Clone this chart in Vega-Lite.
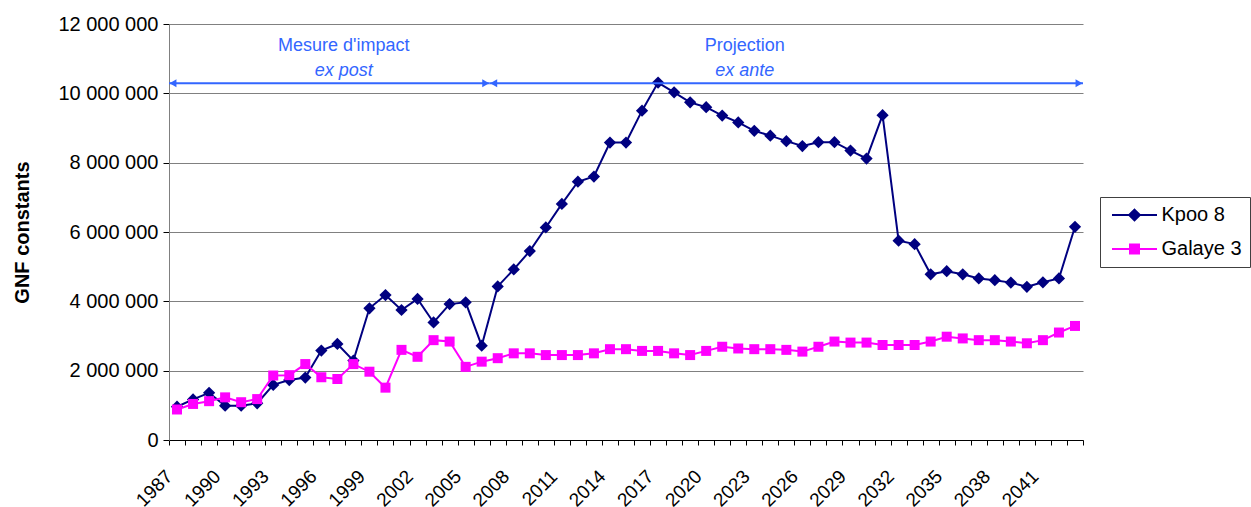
{
  "$schema": "https://vega.github.io/schema/vega-lite/v6.json",
  "width": 914,
  "height": 416,
  "autosize": {"type": "none"},
  "padding": {"left": 169, "top": 24, "right": 168, "bottom": 67},
  "background": "white",
  "config": {"view": {"stroke": null}, "font": "Liberation Sans"},
  "datasets": {
    "series": [
      {"year": 1987, "series": "Kpoo 8", "value": 960000},
      {"year": 1988, "series": "Kpoo 8", "value": 1170000},
      {"year": 1989, "series": "Kpoo 8", "value": 1360000},
      {"year": 1990, "series": "Kpoo 8", "value": 990000},
      {"year": 1991, "series": "Kpoo 8", "value": 990000},
      {"year": 1992, "series": "Kpoo 8", "value": 1060000},
      {"year": 1993, "series": "Kpoo 8", "value": 1590000},
      {"year": 1994, "series": "Kpoo 8", "value": 1730000},
      {"year": 1995, "series": "Kpoo 8", "value": 1800000},
      {"year": 1996, "series": "Kpoo 8", "value": 2580000},
      {"year": 1997, "series": "Kpoo 8", "value": 2770000},
      {"year": 1998, "series": "Kpoo 8", "value": 2290000},
      {"year": 1999, "series": "Kpoo 8", "value": 3800000},
      {"year": 2000, "series": "Kpoo 8", "value": 4180000},
      {"year": 2001, "series": "Kpoo 8", "value": 3750000},
      {"year": 2002, "series": "Kpoo 8", "value": 4070000},
      {"year": 2003, "series": "Kpoo 8", "value": 3390000},
      {"year": 2004, "series": "Kpoo 8", "value": 3920000},
      {"year": 2005, "series": "Kpoo 8", "value": 3970000},
      {"year": 2006, "series": "Kpoo 8", "value": 2720000},
      {"year": 2007, "series": "Kpoo 8", "value": 4430000},
      {"year": 2008, "series": "Kpoo 8", "value": 4920000},
      {"year": 2009, "series": "Kpoo 8", "value": 5450000},
      {"year": 2010, "series": "Kpoo 8", "value": 6130000},
      {"year": 2011, "series": "Kpoo 8", "value": 6810000},
      {"year": 2012, "series": "Kpoo 8", "value": 7450000},
      {"year": 2013, "series": "Kpoo 8", "value": 7600000},
      {"year": 2014, "series": "Kpoo 8", "value": 8580000},
      {"year": 2015, "series": "Kpoo 8", "value": 8580000},
      {"year": 2016, "series": "Kpoo 8", "value": 9500000},
      {"year": 2017, "series": "Kpoo 8", "value": 10310000},
      {"year": 2018, "series": "Kpoo 8", "value": 10030000},
      {"year": 2019, "series": "Kpoo 8", "value": 9740000},
      {"year": 2020, "series": "Kpoo 8", "value": 9600000},
      {"year": 2021, "series": "Kpoo 8", "value": 9360000},
      {"year": 2022, "series": "Kpoo 8", "value": 9160000},
      {"year": 2023, "series": "Kpoo 8", "value": 8920000},
      {"year": 2024, "series": "Kpoo 8", "value": 8780000},
      {"year": 2025, "series": "Kpoo 8", "value": 8620000},
      {"year": 2026, "series": "Kpoo 8", "value": 8480000},
      {"year": 2027, "series": "Kpoo 8", "value": 8590000},
      {"year": 2028, "series": "Kpoo 8", "value": 8590000},
      {"year": 2029, "series": "Kpoo 8", "value": 8350000},
      {"year": 2030, "series": "Kpoo 8", "value": 8120000},
      {"year": 2031, "series": "Kpoo 8", "value": 9370000},
      {"year": 2032, "series": "Kpoo 8", "value": 5750000},
      {"year": 2033, "series": "Kpoo 8", "value": 5650000},
      {"year": 2034, "series": "Kpoo 8", "value": 4780000},
      {"year": 2035, "series": "Kpoo 8", "value": 4870000},
      {"year": 2036, "series": "Kpoo 8", "value": 4780000},
      {"year": 2037, "series": "Kpoo 8", "value": 4660000},
      {"year": 2038, "series": "Kpoo 8", "value": 4610000},
      {"year": 2039, "series": "Kpoo 8", "value": 4540000},
      {"year": 2040, "series": "Kpoo 8", "value": 4420000},
      {"year": 2041, "series": "Kpoo 8", "value": 4550000},
      {"year": 2042, "series": "Kpoo 8", "value": 4660000},
      {"year": 2043, "series": "Kpoo 8", "value": 6150000},
      {"year": 1987, "series": "Galaye 3", "value": 880000},
      {"year": 1988, "series": "Galaye 3", "value": 1040000},
      {"year": 1989, "series": "Galaye 3", "value": 1120000},
      {"year": 1990, "series": "Galaye 3", "value": 1230000},
      {"year": 1991, "series": "Galaye 3", "value": 1090000},
      {"year": 1992, "series": "Galaye 3", "value": 1180000},
      {"year": 1993, "series": "Galaye 3", "value": 1860000},
      {"year": 1994, "series": "Galaye 3", "value": 1870000},
      {"year": 1995, "series": "Galaye 3", "value": 2190000},
      {"year": 1996, "series": "Galaye 3", "value": 1810000},
      {"year": 1997, "series": "Galaye 3", "value": 1760000},
      {"year": 1998, "series": "Galaye 3", "value": 2190000},
      {"year": 1999, "series": "Galaye 3", "value": 1970000},
      {"year": 2000, "series": "Galaye 3", "value": 1510000},
      {"year": 2001, "series": "Galaye 3", "value": 2600000},
      {"year": 2002, "series": "Galaye 3", "value": 2400000},
      {"year": 2003, "series": "Galaye 3", "value": 2880000},
      {"year": 2004, "series": "Galaye 3", "value": 2840000},
      {"year": 2005, "series": "Galaye 3", "value": 2110000},
      {"year": 2006, "series": "Galaye 3", "value": 2260000},
      {"year": 2007, "series": "Galaye 3", "value": 2360000},
      {"year": 2008, "series": "Galaye 3", "value": 2500000},
      {"year": 2009, "series": "Galaye 3", "value": 2500000},
      {"year": 2010, "series": "Galaye 3", "value": 2450000},
      {"year": 2011, "series": "Galaye 3", "value": 2450000},
      {"year": 2012, "series": "Galaye 3", "value": 2450000},
      {"year": 2013, "series": "Galaye 3", "value": 2500000},
      {"year": 2014, "series": "Galaye 3", "value": 2620000},
      {"year": 2015, "series": "Galaye 3", "value": 2620000},
      {"year": 2016, "series": "Galaye 3", "value": 2570000},
      {"year": 2017, "series": "Galaye 3", "value": 2570000},
      {"year": 2018, "series": "Galaye 3", "value": 2500000},
      {"year": 2019, "series": "Galaye 3", "value": 2450000},
      {"year": 2020, "series": "Galaye 3", "value": 2570000},
      {"year": 2021, "series": "Galaye 3", "value": 2690000},
      {"year": 2022, "series": "Galaye 3", "value": 2640000},
      {"year": 2023, "series": "Galaye 3", "value": 2620000},
      {"year": 2024, "series": "Galaye 3", "value": 2620000},
      {"year": 2025, "series": "Galaye 3", "value": 2600000},
      {"year": 2026, "series": "Galaye 3", "value": 2550000},
      {"year": 2027, "series": "Galaye 3", "value": 2690000},
      {"year": 2028, "series": "Galaye 3", "value": 2840000},
      {"year": 2029, "series": "Galaye 3", "value": 2810000},
      {"year": 2030, "series": "Galaye 3", "value": 2810000},
      {"year": 2031, "series": "Galaye 3", "value": 2740000},
      {"year": 2032, "series": "Galaye 3", "value": 2740000},
      {"year": 2033, "series": "Galaye 3", "value": 2740000},
      {"year": 2034, "series": "Galaye 3", "value": 2840000},
      {"year": 2035, "series": "Galaye 3", "value": 2980000},
      {"year": 2036, "series": "Galaye 3", "value": 2930000},
      {"year": 2037, "series": "Galaye 3", "value": 2880000},
      {"year": 2038, "series": "Galaye 3", "value": 2880000},
      {"year": 2039, "series": "Galaye 3", "value": 2840000},
      {"year": 2040, "series": "Galaye 3", "value": 2790000},
      {"year": 2041, "series": "Galaye 3", "value": 2880000},
      {"year": 2042, "series": "Galaye 3", "value": 3100000},
      {"year": 2043, "series": "Galaye 3", "value": 3290000}
    ],
    "spans": [
      {"x": 1986.5, "x2": 2006.5, "y": 10290000},
      {"x": 2006.5, "x2": 2043.5, "y": 10290000}
    ],
    "heads": [
      {"x": 1986.5, "y": 10290000, "dir": "left"},
      {"x": 2006.5, "y": 10290000, "dir": "right"},
      {"x": 2006.5, "y": 10290000, "dir": "left"},
      {"x": 2043.5, "y": 10290000, "dir": "right"}
    ],
    "notes": [
      {"x": 1997.4, "y": 11365000, "text": "Mesure d'impact", "style": "normal"},
      {"x": 1997.4, "y": 10644000, "text": "ex post", "style": "italic"},
      {"x": 2022.4, "y": 11365000, "text": "Projection", "style": "normal"},
      {"x": 2022.4, "y": 10644000, "text": "ex ante", "style": "italic"}
    ]
  },
  "layer": [
    {
      "data": {"name": "series"},
      "transform": [{"filter": "datum.series === 'Kpoo 8'"}],
      "mark": {"type": "line", "strokeWidth": 2},
      "encoding": {
        "x": {
          "field": "year", "type": "quantitative",
          "scale": {"domain": [1986.5, 2043.5], "nice": false, "zero": false},
          "axis": {
            "title": null,
            "values": [1986.5,1987.5,1988.5,1989.5,1990.5,1991.5,1992.5,1993.5,1994.5,1995.5,1996.5,1997.5,1998.5,1999.5,2000.5,2001.5,2002.5,2003.5,2004.5,2005.5,2006.5,2007.5,2008.5,2009.5,2010.5,2011.5,2012.5,2013.5,2014.5,2015.5,2016.5,2017.5,2018.5,2019.5,2020.5,2021.5,2022.5,2023.5,2024.5,2025.5,2026.5,2027.5,2028.5,2029.5,2030.5,2031.5,2032.5,2033.5,2034.5,2035.5,2036.5,2037.5,2038.5,2039.5,2040.5,2041.5,2042.5,2043.5],
            "tickCount": 200,
            "labelExpr": "(datum.value + 0.5 - 1987) % 3 == 0 && datum.value < 2043 ? format(datum.value + 0.5, 'd') : ''",
            "labelAngle": -45, "labelAlign": "right", "labelBaseline": "middle",
            "labelPadding": 28, "labelDx": -5, "tickSize": 5, "grid": false,
            "labelOverlap": false, "labelFlush": false, "labelBound": false,
            "labelFontSize": 19, "labelColor": "black",
            "domainColor": "black", "tickColor": "black", "domainWidth": 1, "tickWidth": 1
          }
        },
        "y": {
          "field": "value", "type": "quantitative",
          "scale": {"domain": [0, 12000000], "nice": false},
          "axis": {
            "title": "GNF constants",
            "values": [0, 2000000, 4000000, 6000000, 8000000, 10000000, 12000000],
            "labelExpr": "replace(replace(format(datum.value, ','), ',', ' '), ',', ' ')",
            "labelFontSize": 20, "labelColor": "black", "labelPadding": 5,
            "tickSize": 6, "tickColor": "black", "domainColor": "#808080",
            "grid": true, "gridColor": "#808080", "gridWidth": 1,
            "titleFontSize": 20, "titleFontWeight": "bold", "titleColor": "black",
            "titleX": -147, "titleY": 208, "titleAngle": -90,
            "titleAlign": "center", "titleBaseline": "middle"
          }
        },
        "color": {
          "field": "series", "type": "nominal",
          "scale": {"domain": ["Kpoo 8", "Galaye 3"], "range": ["#000080", "#FF00FF"]},
          "legend": {
            "title": null, "orient": "none", "legendX": 931, "legendY": 173,
            "labelFontSize": 20, "labelColor": "black", "labelFont": "Liberation Sans",
            "symbolSize": 144, "symbolStrokeWidth": 2, "symbolOffset": 16.5, "labelOffset": 17,
            "padding": 8, "rowPadding": 14,
            "strokeColor": "#404040", "fillColor": "white",
            "encode": {"symbols": {"update": {
              "shape": {"signal": "datum.value === 'Kpoo 8' ? 'M-3.75,0L3.75,0M0,-0.9L0.9,0L0,0.9L-0.9,0Z' : 'M-3.75,0L3.75,0M-0.75,-0.75L0.75,-0.75L0.75,0.75L-0.75,0.75Z'"},
              "fill": {"signal": "datum.value === 'Kpoo 8' ? '#000080' : '#FF00FF'"},
              "stroke": {"signal": "datum.value === 'Kpoo 8' ? '#000080' : '#FF00FF'"},
              "strokeWidth": {"value": 2},
              "opacity": {"value": 1}
            }}}
          }
        }
      }
    },
    {
      "data": {"name": "series"},
      "transform": [{"filter": "datum.series === 'Kpoo 8'"}],
      "mark": {"type": "point", "shape": "diamond", "filled": true, "opacity": 1, "size": 150, "color": "#000080"},
      "encoding": {
        "x": {"field": "year", "type": "quantitative"},
        "y": {"field": "value", "type": "quantitative"}
      }
    },
    {
      "data": {"name": "series"},
      "transform": [{"filter": "datum.series === 'Galaye 3'"}],
      "mark": {"type": "line", "strokeWidth": 2},
      "encoding": {
        "x": {"field": "year", "type": "quantitative"},
        "y": {"field": "value", "type": "quantitative"},
        "color": {"field": "series", "type": "nominal"}
      }
    },
    {
      "data": {"name": "series"},
      "transform": [{"filter": "datum.series === 'Galaye 3'"}],
      "mark": {"type": "point", "shape": "square", "filled": true, "opacity": 1, "size": 100, "color": "#FF00FF"},
      "encoding": {
        "x": {"field": "year", "type": "quantitative"},
        "y": {"field": "value", "type": "quantitative"}
      }
    },
    {
      "mark": {"type": "rule", "color": "black", "strokeWidth": 1.5, "strokeDash": [6, 4]},
      "encoding": {"x": {"datum": 2006.5, "type": "quantitative"}}
    },
    {
      "data": {"name": "spans"},
      "mark": {"type": "rule", "color": "#3366FF", "strokeWidth": 2},
      "encoding": {
        "x": {"field": "x", "type": "quantitative"},
        "x2": {"field": "x2"},
        "y": {"field": "y", "type": "quantitative"}
      }
    },
    {
      "data": {"name": "heads"},
      "transform": [{"filter": "datum.dir === 'left'"}],
      "mark": {"type": "point", "shape": "triangle-left", "filled": true, "opacity": 1, "size": 64, "color": "#3366FF", "xOffset": 4},
      "encoding": {
        "x": {"field": "x", "type": "quantitative"},
        "y": {"field": "y", "type": "quantitative"}
      }
    },
    {
      "data": {"name": "heads"},
      "transform": [{"filter": "datum.dir === 'right'"}],
      "mark": {"type": "point", "shape": "triangle-right", "filled": true, "opacity": 1, "size": 64, "color": "#3366FF", "xOffset": -4},
      "encoding": {
        "x": {"field": "x", "type": "quantitative"},
        "y": {"field": "y", "type": "quantitative"}
      }
    },
    {
      "data": {"name": "notes"},
      "transform": [{"filter": "datum.style === 'normal'"}],
      "mark": {"type": "text", "fontSize": 18, "color": "#3366FF", "align": "center", "baseline": "middle", "font": "Liberation Sans"},
      "encoding": {
        "x": {"field": "x", "type": "quantitative"},
        "y": {"field": "y", "type": "quantitative"},
        "text": {"field": "text"}
      }
    },
    {
      "data": {"name": "notes"},
      "transform": [{"filter": "datum.style === 'italic'"}],
      "mark": {"type": "text", "fontSize": 18, "fontStyle": "italic", "color": "#3366FF", "align": "center", "baseline": "middle", "font": "Liberation Sans"},
      "encoding": {
        "x": {"field": "x", "type": "quantitative"},
        "y": {"field": "y", "type": "quantitative"},
        "text": {"field": "text"}
      }
    }
  ]
}
